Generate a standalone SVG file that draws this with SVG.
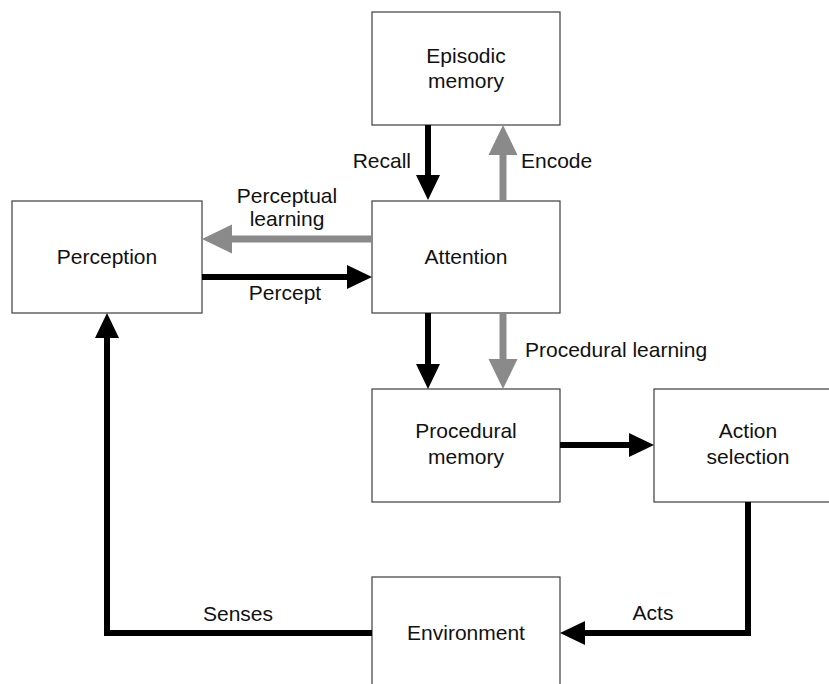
<svg xmlns="http://www.w3.org/2000/svg" width="829" height="684" viewBox="0 0 829 684">
  <style>
    .box { fill: #ffffff; stroke: #3c3c3c; stroke-width: 1.2; }
    .lbl { font-family: "Liberation Sans", Arial, sans-serif; font-size: 21px; fill: #111111; }
    .mid { text-anchor: middle; }
    .dark { fill: none; stroke: #000000; stroke-width: 6; stroke-linejoin: miter; }
    .grey { fill: none; stroke: #8a8a8a; stroke-width: 7; }
  </style>
  <defs>
    <marker id="headDark" markerUnits="userSpaceOnUse" markerWidth="26" markerHeight="24" refX="1" refY="12" orient="auto" overflow="visible">
      <path d="M0,0 L25,12 L0,24 Z" fill="#000000"/>
    </marker>
    <marker id="headGrey" markerUnits="userSpaceOnUse" markerWidth="31" markerHeight="29" refX="1" refY="14.5" orient="auto" overflow="visible">
      <path d="M0,0 L30,14.5 L0,29 Z" fill="#8a8a8a"/>
    </marker>
  </defs>

  <rect width="829" height="684" fill="#ffffff"/>

  <!-- boxes -->
  <g id="episodic-memory">
    <rect class="box" x="372" y="12" width="188" height="113"/>
    <text class="lbl mid" x="466" y="63">Episodic</text>
    <text class="lbl mid" x="466" y="88">memory</text>
  </g>
  <g id="attention">
    <rect class="box" x="372" y="201" width="188" height="112"/>
    <text class="lbl mid" x="466" y="264">Attention</text>
  </g>
  <g id="perception">
    <rect class="box" x="12" y="201" width="190" height="112"/>
    <text class="lbl mid" x="107" y="264">Perception</text>
  </g>
  <g id="procedural-memory">
    <rect class="box" x="372" y="389" width="188" height="113"/>
    <text class="lbl mid" x="466" y="438">Procedural</text>
    <text class="lbl mid" x="466" y="464">memory</text>
  </g>
  <g id="action-selection">
    <rect class="box" x="654" y="389" width="188" height="113"/>
    <text class="lbl mid" x="748" y="438">Action</text>
    <text class="lbl mid" x="748" y="464">selection</text>
  </g>
  <g id="environment">
    <rect class="box" x="372" y="577" width="188" height="113"/>
    <text class="lbl mid" x="466" y="640">Environment</text>
  </g>

  <!-- connectors -->
  <g id="connectors">
    <line class="dark" x1="428" y1="125" x2="428" y2="176" marker-end="url(#headDark)"/>
    <line class="grey" x1="503" y1="201" x2="503" y2="154" marker-end="url(#headGrey)"/>
    <line class="grey" x1="372" y1="239" x2="231" y2="239" marker-end="url(#headGrey)"/>
    <line class="dark" x1="202" y1="277" x2="348" y2="277" marker-end="url(#headDark)"/>
    <line class="dark" x1="428" y1="313" x2="428" y2="365" marker-end="url(#headDark)"/>
    <line class="grey" x1="503" y1="313" x2="503" y2="360" marker-end="url(#headGrey)"/>
    <line class="dark" x1="560" y1="445" x2="630" y2="445" marker-end="url(#headDark)"/>
    <polyline class="dark" points="748,502 748,633 584,633" marker-end="url(#headDark)"/>
    <polyline class="dark" points="372,633 107,633 107,337" marker-end="url(#headDark)"/>

    <text class="lbl" x="411" y="168" text-anchor="end">Recall</text>
    <text class="lbl" x="521" y="168">Encode</text>
    <text class="lbl mid" x="287" y="203">Perceptual</text>
    <text class="lbl mid" x="287" y="226">learning</text>
    <text class="lbl mid" x="285" y="300">Percept</text>
    <text class="lbl" x="525" y="357">Procedural learning</text>
    <text class="lbl mid" x="238" y="621">Senses</text>
    <text class="lbl mid" x="653" y="620">Acts</text>
  </g>
</svg>
